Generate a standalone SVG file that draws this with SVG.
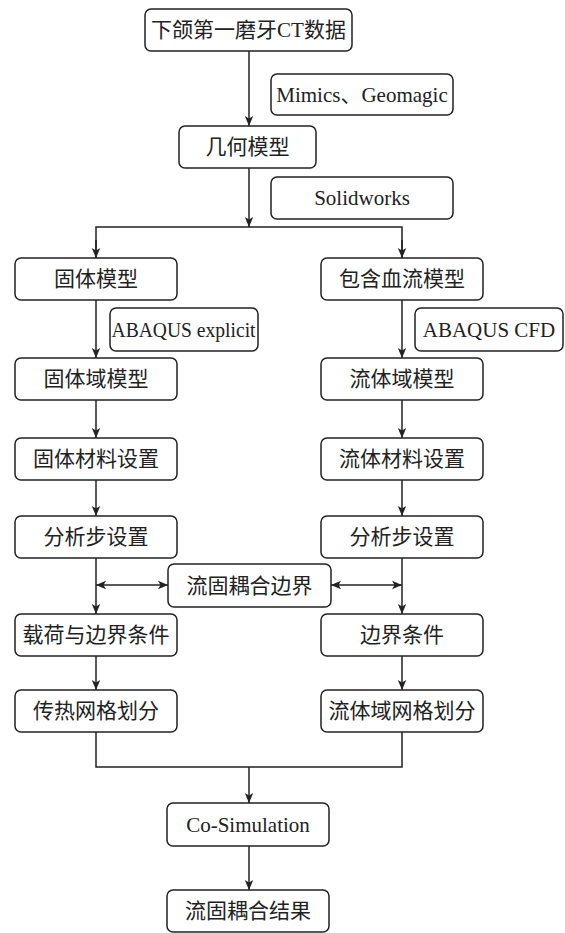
<svg xmlns="http://www.w3.org/2000/svg" width="565" height="933" viewBox="0 0 565 933">
<style>
.box{fill:#fff;stroke:#222;stroke-width:1.5}
.t{font-family:"Liberation Serif","Noto Sans CJK SC",serif;font-size:21px;fill:#222;text-anchor:middle}
.c{fill:none;stroke:#222;stroke-width:1.5}
</style>
<defs>
<marker id="ah" markerUnits="userSpaceOnUse" markerWidth="10" markerHeight="10" refX="10" refY="5" orient="auto-start-reverse">
<path d="M0,0.8 L10,5 L0,9.2 L2.5,5 z" fill="#222"/>
</marker>
</defs>
<rect width="565" height="933" fill="#fff"/>
<g id="connectors">
<line class="c" x1="249" y1="51" x2="249" y2="126" marker-end="url(#ah)"/>
<line class="c" x1="249" y1="168" x2="249" y2="227" marker-end="url(#ah)"/>
<polyline class="c" points="96,258 96,227 402,227 402,258"/>
<line class="c" x1="96" y1="240" x2="96" y2="258" marker-end="url(#ah)"/>
<line class="c" x1="402" y1="240" x2="402" y2="258" marker-end="url(#ah)"/>
<line class="c" x1="96" y1="300" x2="96" y2="358" marker-end="url(#ah)"/>
<line class="c" x1="402" y1="300" x2="402" y2="358" marker-end="url(#ah)"/>
<line class="c" x1="96" y1="400" x2="96" y2="438" marker-end="url(#ah)"/>
<line class="c" x1="402" y1="400" x2="402" y2="438" marker-end="url(#ah)"/>
<line class="c" x1="96" y1="480" x2="96" y2="516" marker-end="url(#ah)"/>
<line class="c" x1="402" y1="480" x2="402" y2="516" marker-end="url(#ah)"/>
<line class="c" x1="96" y1="558" x2="96" y2="614" marker-end="url(#ah)"/>
<line class="c" x1="402" y1="558" x2="402" y2="614" marker-end="url(#ah)"/>
<line class="c" x1="96" y1="585" x2="168" y2="585" marker-start="url(#ah)" marker-end="url(#ah)"/>
<line class="c" x1="331" y1="585" x2="402" y2="585" marker-start="url(#ah)" marker-end="url(#ah)"/>
<line class="c" x1="96" y1="656" x2="96" y2="690" marker-end="url(#ah)"/>
<line class="c" x1="402" y1="656" x2="402" y2="690" marker-end="url(#ah)"/>
<polyline class="c" points="96,732 96,767 402,767 402,732"/>
<line class="c" x1="249" y1="767" x2="249" y2="803" marker-end="url(#ah)"/>
<line class="c" x1="249" y1="846" x2="249" y2="890" marker-end="url(#ah)"/>
</g>
<g id="n-ct"><rect class="box" x="145" y="9" width="207" height="42" rx="6"/><text class="t" x="248.5" y="37">下颌第一磨牙CT数据</text></g>
<g id="n-mimics"><rect class="box" x="271" y="74" width="182" height="41" rx="6"/><text class="t" x="362" y="101.5">Mimics、Geomagic</text></g>
<g id="n-geo"><rect class="box" x="179" y="126" width="137" height="42" rx="6"/><text class="t" x="247.5" y="154">几何模型</text></g>
<g id="n-solidworks"><rect class="box" x="271" y="177" width="182" height="42" rx="6"/><text class="t" x="362" y="205">Solidworks</text></g>
<g id="n-solid"><rect class="box" x="15" y="258" width="162" height="42" rx="6"/><text class="t" x="96" y="286">固体模型</text></g>
<g id="n-blood"><rect class="box" x="321" y="258" width="162" height="42" rx="6"/><text class="t" x="402" y="286">包含血流模型</text></g>
<g id="n-explicit"><rect class="box" x="110" y="308" width="148" height="43" rx="6"/><text class="t" x="183.5" y="337" textLength="144" lengthAdjust="spacingAndGlyphs">ABAQUS explicit</text></g>
<g id="n-cfd"><rect class="box" x="415" y="308" width="148" height="43" rx="6"/><text class="t" x="489" y="337">ABAQUS CFD</text></g>
<g id="n-solid-domain"><rect class="box" x="15" y="358" width="162" height="42" rx="6"/><text class="t" x="96" y="386">固体域模型</text></g>
<g id="n-fluid-domain"><rect class="box" x="321" y="358" width="162" height="42" rx="6"/><text class="t" x="402" y="386">流体域模型</text></g>
<g id="n-solid-mat"><rect class="box" x="15" y="438" width="162" height="42" rx="6"/><text class="t" x="96" y="466">固体材料设置</text></g>
<g id="n-fluid-mat"><rect class="box" x="321" y="438" width="162" height="42" rx="6"/><text class="t" x="402" y="466">流体材料设置</text></g>
<g id="n-step-l"><rect class="box" x="15" y="516" width="162" height="42" rx="6"/><text class="t" x="96" y="544">分析步设置</text></g>
<g id="n-step-r"><rect class="box" x="321" y="516" width="162" height="42" rx="6"/><text class="t" x="402" y="544">分析步设置</text></g>
<g id="n-fsi-boundary"><rect class="box" x="168" y="564" width="163" height="43" rx="6"/><text class="t" x="249.5" y="593">流固耦合边界</text></g>
<g id="n-load"><rect class="box" x="15" y="614" width="162" height="42" rx="6"/><text class="t" x="96" y="642">载荷与边界条件</text></g>
<g id="n-bc"><rect class="box" x="321" y="614" width="162" height="42" rx="6"/><text class="t" x="402" y="642">边界条件</text></g>
<g id="n-mesh-l"><rect class="box" x="15" y="690" width="162" height="42" rx="6"/><text class="t" x="96" y="718">传热网格划分</text></g>
<g id="n-mesh-r"><rect class="box" x="321" y="690" width="162" height="42" rx="6"/><text class="t" x="402" y="718">流体域网格划分</text></g>
<g id="n-cosim"><rect class="box" x="167" y="803" width="162" height="43" rx="6"/><text class="t" x="248" y="832">Co-Simulation</text></g>
<g id="n-result"><rect class="box" x="167" y="890" width="162" height="42" rx="6"/><text class="t" x="248" y="918">流固耦合结果</text></g>
</svg>
